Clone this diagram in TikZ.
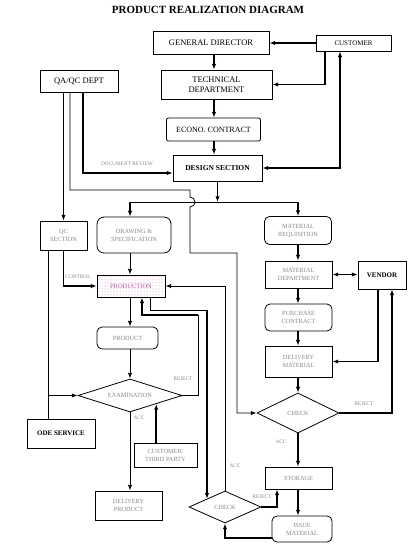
\documentclass[tikz,border=0pt]{standalone}
\usepackage{fontspec}
\setmainfont{Liberation Serif}
\usetikzlibrary{arrows.meta,positioning,shapes.geometric,patterns}
\definecolor{Grey}{HTML}{8A8A8A}
\definecolor{Plum}{HTML}{B0308F}

\begin{document}
\begin{tikzpicture}[x=1pt,y=-1pt,
    box/.style={draw,line width=.8pt,inner sep=0pt,align=center,font=\fontsize{8.5}{10}\selectfont},
    gbox/.style={box,text=Grey,font=\fontsize{6.3}{8}\selectfont},
    rbox/.style={gbox,rounded corners=5pt},
    dia/.style={draw,diamond,aspect=2.5,line width=.8pt,inner sep=0pt,text=Grey,font=\fontsize{6.3}{8}\selectfont},
    lbl/.style={inner sep=0pt,text=Grey,font=\fontsize{5.3}{6}\selectfont},
    arr/.style={-{Latex[length=2mm]},line width=1.6pt},
    arrl/.style={-{Latex[length=2mm]},line width=.8pt},
    ln/.style={line width=.8pt}
  ]
  \fill[white] (0,0) rectangle (416,544);
  \useasboundingbox (0,0) rectangle (416,544);
  \node[font=\fontsize{11}{12}\selectfont\bfseries] (title) at (208,10) {PRODUCT REALIZATION DIAGRAM};

  % top: management
  \node[box,minimum width=116pt,minimum height=23pt] (gd) at (211,42.5) {GENERAL DIRECTOR};
  \node[box,font=\fontsize{7}{8}\selectfont,minimum width=75pt,minimum height=16pt] (cust) at (353.5,43) {CUSTOMER};
  \node[box,minimum width=111pt,minimum height=29pt] (td) at (216.5,84.5) {TECHNICAL\\DEPARTMENT};
  \node[box,minimum width=78pt,minimum height=22pt] (qa) at (79,81) {QA/QC DEPT};
  \node[box,rounded corners=2pt,font=\fontsize{8}{9}\selectfont,minimum width=94pt,minimum height=23pt] (econo) at (213.5,129.5) {ECONO. CONTRACT};
  \node[box,font=\fontsize{7.5}{9}\selectfont\bfseries,minimum width=89pt,minimum height=26pt] (design) at (217.5,168) {DESIGN SECTION};

  % left: production
  \node[gbox,minimum width=47pt,minimum height=29pt] (qc) at (63.5,235.5) {QC\\SECTION};
  \node[rbox,rounded corners=7pt,minimum width=74pt,minimum height=36pt] (draw) at (134,235) {DRAWING \&\\SPECIFICATION};
  \node[box,pattern=dots,pattern color=Plum!60,text=Plum!80,font=\fontsize{6.5}{8}\selectfont,minimum width=68pt,minimum height=22pt] (prod) at (131,286) {PRODUCTION};
  \node[rbox,minimum width=61pt,minimum height=22pt] (product) at (127.5,338) {PRODUCT};
  \node[dia,minimum width=104pt,minimum height=33pt] (exam) at (130,395.5) {EXAMINATION};
  \node[box,font=\fontsize{7}{8}\selectfont\bfseries,minimum width=68pt,minimum height=29pt] (odes) at (61,433.5) {ODE SERVICE};
  \node[gbox,minimum width=63pt,minimum height=24pt] (third) at (165.5,455) {CUSTOMER/\\THIRD PARTY};
  \node[gbox,minimum width=67pt,minimum height=29pt] (dprod) at (128.5,505.5) {DELIVERY\\PRODUCT};
  \node[dia,minimum width=72pt,minimum height=32pt] (lchk) at (225,507) {CHECK};

  % right: material
  \node[rbox,minimum width=67pt,minimum height=28pt] (matreq) at (298,230.5) {MATERIAL\\REQUISITION};
  \node[gbox,minimum width=67pt,minimum height=27pt] (matdep) at (298.5,274.5) {MATERIAL\\DEPARTMENT};
  \node[box,font=\fontsize{7}{8}\selectfont\bfseries,minimum width=48pt,minimum height=28pt] (vendor) at (382,275) {VENDOR};
  \node[rbox,minimum width=67pt,minimum height=27pt] (purch) at (298.5,317.5) {PURCHASE\\CONTRACT};
  \node[gbox,minimum width=67pt,minimum height=31pt] (deliv) at (298.5,361.5) {DELIVERY\\MATERIAL};
  \node[dia,minimum width=82pt,minimum height=40pt] (mchk) at (298,413) {CHECK};
  \node[gbox,minimum width=67pt,minimum height=22pt] (storage) at (298.5,478) {STORAGE};
  \node[rbox,minimum width=60pt,minimum height=26pt] (issue) at (302,529) {ISSUE\\MATERIAL};

  \coordinate (colA) at (130,0);
  \coordinate (colB) at (298,0);
  \coordinate (colC) at (214,0);
  \coordinate (split) at (217,202);
  \coordinate (hop) at (190,202);
  \coordinate (rj) at (198,315);
  \coordinate (pk) at (207,310);

  % connectors
  \foreach \a/\b in {gd/td,td/econo,econo/design}
    \draw[arr] (\a.south -| colC) -- (\b.north -| colC);
  \foreach \a/\b in {matreq/matdep,matdep/purch,purch/deliv,deliv/mchk,mchk/storage,storage/issue}
    \draw[arr] (\a.south -| colB) -- (\b.north -| colB);
  \foreach \a/\b in {draw/prod,prod/product,product/exam,exam/dprod}
    \draw[arrl] (\a.south -| colA) -- (\b.north -| colA);

  \draw[arr] (cust.west) -- (cust.west -| gd.east);
  \draw[arr] ([xshift=-28.5pt]cust.south) |- (td.east);
  \draw[arr,{Latex[length=2mm]}-{Latex[length=2mm]}] (design.east) -| ([xshift=-13.5pt]cust.south);
  \draw[arr] (qa.south -| qc.north) -- (qc.north);
  \draw[arr] ([xshift=4pt]qa.south) |- ([yshift=-5pt]design.west);
  \draw[arrl] ([xshift=-9pt]qa.south) |- ([yshift=12pt]hop) -- ([yshift=5pt]hop)
    arc[start angle=90,end angle=-90,radius=5pt] -- (190,253) -| (237,300) |- (mchk.west);

  \draw[arr] (design.south) -- (design.south |- split);
  \draw[ln] (split -| colA) -- (split -| colB);
  \draw[arr] (split -| colA) -- (draw.north -| colA);
  \draw[arr] (split -| colB) -- (matreq.north -| colB);

  \draw[arr] (qc.south) |- (prod.west);
  \draw[ln] ([xshift=-15.5pt]qc.south) -- ([xshift=-15.5pt]qc.south |- odes.north);
  \draw[arr] ([xshift=-15.5pt]qc.south |- exam.west) -- (exam.west);
  \draw[arr] (third.north -| exam.south east) -- (exam.south east);

  \draw[ln] (exam.east) -| (rj);
  \draw[arr] (rj) -| ([xshift=11pt]prod.south);
  \draw[ln] ([xshift=19pt]prod.south) |- (pk);
  \draw[arr] (pk) -- (pk |- lchk.north west);
  \draw[arrl] (lchk.north) |- (prod.east);
  \draw[arr] (lchk.east) -| ([xshift=-21.5pt]storage.south);
  \draw[arr] ([yshift=-9pt]issue.west) -| (lchk.south);

  \draw[arr,{Latex[length=2mm]}-{Latex[length=2mm]}] (matdep.east) -- (matdep.east -| vendor.west);
  \draw[arr] ([xshift=-4pt]vendor.south) |- (deliv.east);
  \draw[arr] (mchk.east) -| ([xshift=10pt]vendor.south);

  % labels
  \node[lbl] (lrev) at (127,164) {DOCUMENT REVIEW};
  \node[lbl] (lctl) at (78,277) {CONTROL};
  \node[lbl] (lrj1) at (183,379) {REJECT};
  \node[lbl] (lac1) at (139,418) {ACC};
  \node[lbl] (lac2) at (235,466) {ACC};
  \node[lbl] (lrj2) at (262,497) {REJECT};
  \node[lbl] (lrj3) at (364,404) {REJECT};
  \node[lbl] (lac3) at (281,442) {ACC};
\end{tikzpicture}
\end{document}
